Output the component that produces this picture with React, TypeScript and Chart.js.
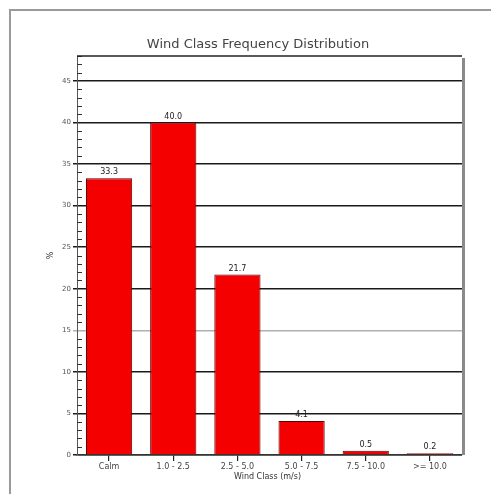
import React, { useEffect, useRef } from "react";
import { Chart, registerables } from "chart.js";

Chart.register(...registerables);

const categories = ["Calm", "1.0 - 2.5", "2.5 - 5.0", "5.0 - 7.5", "7.5 - 10.0", ">= 10.0"];
const frequencies = [33.3, 40.0, 21.7, 4.1, 0.5, 0.2];
const valueLabels = ["33.3", "40.0", "21.7", "4.1", "0.5", "0.2"];
const chartTitle = "Wind Class Frequency Distribution";
const xTitle = "Wind Class (m/s)";
const yTitle = "%";
const yMax = 48;
const yStep = 5;

const FONT = "'DejaVu Sans', 'Liberation Sans', sans-serif";

const decorPlugin = {
  id: "decor",
  afterDraw(chart: any) {
    const { ctx, chartArea } = chart;
    const y = chart.scales.y;
    const x = chart.scales.x;
    ctx.save();
    // minor ticks
    ctx.strokeStyle = "#333";
    ctx.lineWidth = 1;
    for (let v = 0; v <= yMax; v++) {
      if (v % yStep === 0) continue;
      const py = Math.round(y.getPixelForValue(v)) + 0.5;
      ctx.beginPath();
      ctx.moveTo(chartArea.left, py);
      ctx.lineTo(chartArea.left + 5, py);
      ctx.stroke();
    }
    // top frame line
    ctx.strokeStyle = "#222";
    ctx.lineWidth = 1.5;
    ctx.beginPath();
    ctx.moveTo(chartArea.left, chartArea.top);
    ctx.lineTo(chartArea.right, chartArea.top);
    ctx.stroke();
    // right border (shadowed)
    ctx.strokeStyle = "#8a8a8a";
    ctx.lineWidth = 3;
    ctx.beginPath();
    ctx.moveTo(chartArea.right + 1.5, chartArea.top + 2);
    ctx.lineTo(chartArea.right + 1.5, chartArea.bottom);
    ctx.stroke();
    // value labels
    ctx.fillStyle = "#222";
    ctx.font = `8px ${FONT}`;
    ctx.textAlign = "center";
    ctx.textBaseline = "bottom";
    const meta = chart.getDatasetMeta(0);
    meta.data.forEach((bar: any, i: number) => {
      ctx.fillText(valueLabels[i], bar.x, bar.y - 2);
    });
    // title
    ctx.fillStyle = "#444";
    ctx.font = `13px ${FONT}`;
    ctx.textBaseline = "middle";
    ctx.fillText(chartTitle, 258, 45);
    // x title
    ctx.fillStyle = "#333";
    ctx.font = `8px ${FONT}`;
    ctx.fillText(xTitle, (chartArea.left + chartArea.right) / 2 - 2, x.bottom - 17);
    // y title
    ctx.translate(51, (chartArea.top + chartArea.bottom) / 2);
    ctx.rotate(-Math.PI / 2);
    ctx.fillText(yTitle, 0, 0);
    ctx.restore();
  },
};

export default function App() {
  const ref = useRef<HTMLCanvasElement | null>(null);
  useEffect(() => {
    if (!ref.current) return;
    const chart = new Chart(ref.current, {
      type: "bar",
      data: {
        labels: categories,
        datasets: [
          {
            data: frequencies,
            backgroundColor: "#f40000",
            borderColor: "#5a0000",
            borderWidth: 1,
            categoryPercentage: 1,
            barPercentage: 0.72,
          },
        ],
      },
      options: {
        animation: false,
        responsive: false,
        layout: { padding: { top: 56, right: 29, left: 0, bottom: 0 } },
        plugins: { legend: { display: false }, tooltip: { enabled: false }, title: { display: false } },
        scales: {
          x: {
            offset: true,
            grid: {
              offset: false,
              drawOnChartArea: false,
              drawTicks: true,
              tickLength: 6,
              color: "#222",
              lineWidth: 1.2,
            },
            border: { display: true, color: "#333", width: 1.5 },
            ticks: {
              color: "#444",
              font: { family: FONT, size: 8 },
              padding: 1,
              maxRotation: 0,
              autoSkip: false,
            },
            afterFit: (s: any) => {
              s.height = 39;
            },
          },
          y: {
            min: 0,
            max: yMax,
            grid: {
              color: (c: any) => (c.tick && c.tick.value === 15 ? "#b0b0b0" : "#1a1a1a"),
              lineWidth: 1.5,
              tickLength: 4,
            },
            border: { display: true, color: "#555", width: 1 },
            ticks: {
              stepSize: yStep,
              includeBounds: false,
              color: "#555",
              font: { family: FONT, size: 7 },
              padding: 2,
            },
            afterFit: (s: any) => {
              s.width = 77;
            },
          },
        },
      },
      plugins: [decorPlugin],
    });
    return () => chart.destroy();
  }, []);
  return (
    <div style={{ position: "fixed", left: 0, top: 0, width: 491, height: 494, background: "#fff" }}>
      <div
        style={{
          position: "absolute",
          left: 9,
          top: 9,
          width: 482,
          height: 485,
          borderLeft: "2px solid #9a9a9a",
          borderTop: "2px solid #9a9a9a",
        }}
      />
      <canvas ref={ref} width={491} height={494} style={{ position: "absolute", left: 0, top: 0 }} />
    </div>
  );
}
